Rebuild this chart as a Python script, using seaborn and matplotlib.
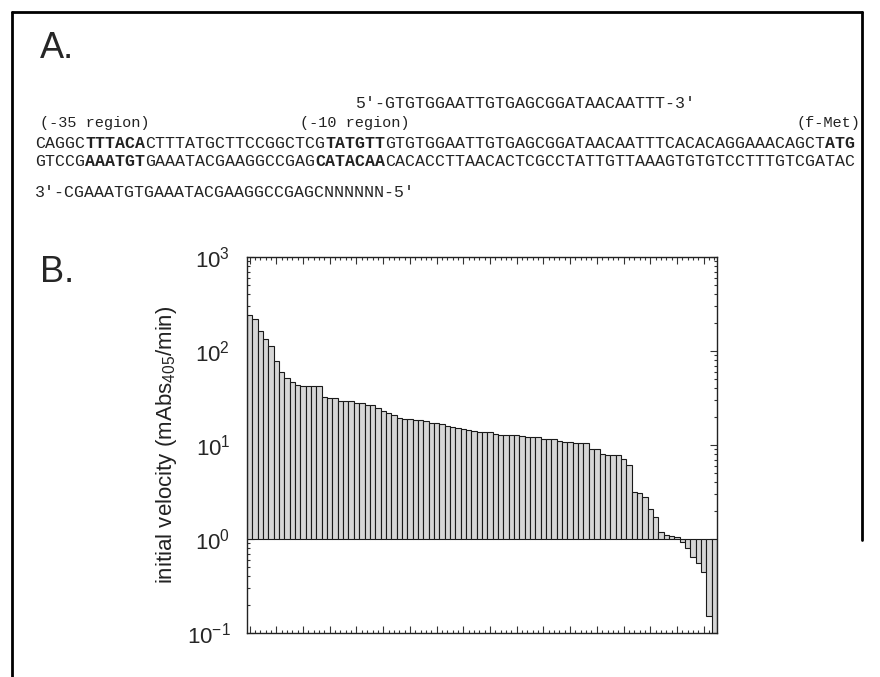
import matplotlib
matplotlib.use("Agg")
import matplotlib.pyplot as plt
import matplotlib.ticker as mticker
from matplotlib.lines import Line2D
import seaborn as sns
import numpy as np

# initial velocities of the clones, sorted (mAbs405/min)
velocity = [240, 218, 163, 133, 114, 78, 60, 52, 47, 43,
            42, 42, 42, 42, 32.6, 31.4, 31.4, 29.6, 29.6, 29.4,
            28.2, 28, 26.7, 26.5, 25, 23, 22, 21, 19.5, 19,
            18.8, 18.6, 18.4, 17.8, 17.2, 17.0, 16.8, 15.8, 15.5, 15.3,
            14.8, 14.5, 14.0, 13.8, 13.7, 13.6, 13.0, 12.9, 12.8, 12.8,
            12.7, 12.6, 12.3, 12.2, 12.2, 11.6, 11.5, 11.5, 11.0, 10.8,
            10.8, 10.5, 10.4, 10.4, 9.1, 9.0, 8.1, 7.9, 7.8, 7.8,
            7.1, 6.1, 3.2, 3.1, 2.8, 2.1, 1.7, 1.2, 1.1, 1.07,
            1.05, 0.94, 0.8, 0.65, 0.55, 0.45, 0.15, 0.1]
clone = list(range(len(velocity)))

# lac promoter / operator region
seq_top = "CAGGCTTTACACTTTATGCTTCCGGCTCGTATGTTGTGTGGAATTGTGAGCGGATAACAATTTCACACAGGAAACAGCTATG"
seq_bot = "GTCCGAAATGTGAAATACGAAGGCCGAGCATACAACACACCTTAACACTCGCCTATTGTTAAAGTGTGTCCTTTGTCGATAC"
bold_top = [(5, 11), (29, 35), (79, 82)]
bold_bot = [(5, 11), (28, 35)]
primer_5 = "5'-GTGTGGAATTGTGAGCGGATAACAATTT-3'"
primer_3 = "3'-CGAAATGTGAAATACGAAGGCCGAGCNNNNNN-5'"
regions = ["(-35 region)", "(-10 region)", "(f-Met)"]

sns.set_style("ticks")
plt.rcParams["font.family"] = ["Liberation Sans", "DejaVu Sans"]
plt.rcParams["mathtext.fontset"] = "custom"
plt.rcParams["mathtext.rm"] = "Liberation Sans"

W, H = 880, 677
fig = plt.figure(figsize=(W / 100, H / 100), dpi=100)


def fx(x):
    return x / W


def fy(y):
    return 1 - y / H


MONO = "Liberation Mono"
X0, DX = 35, 10


def seq_line(seq, bold, y):
    # split into plain / bold runs, place on the monospace grid
    cuts = sorted({0, len(seq)} | {b for r in bold for b in r})
    for a, b in zip(cuts[:-1], cuts[1:]):
        is_bold = any(s <= a < e for s, e in bold)
        fig.text(fx(X0 + a * DX), fy(y), seq[a:b], family=MONO, fontsize=12,
                 fontweight="bold" if is_bold else "normal",
                 va="center", ha="left", color="#222222")


fig.text(fx(40), fy(48), "A.", fontsize=26, va="center", ha="left")
fig.text(fx(40), fy(273), "B.", fontsize=26, va="center", ha="left")

fig.text(fx(X0 + 32 * DX), fy(103), primer_5, family=MONO, fontsize=12,
         va="center", ha="left", color="#222222")
fig.text(fx(40), fy(123), regions[0], family=MONO, fontsize=11, va="center", ha="left", color="#222222")
fig.text(fx(300), fy(123), regions[1], family=MONO, fontsize=11, va="center", ha="left", color="#222222")
fig.text(fx(860), fy(123), regions[2], family=MONO, fontsize=11, va="center", ha="right", color="#222222")
seq_line(seq_top, bold_top, 143)
seq_line(seq_bot, bold_bot, 162)
fig.text(fx(X0), fy(193), primer_3, family=MONO, fontsize=12,
         va="center", ha="left", color="#222222")

# panel frame
for xs, ys in [((12, 12), (12, H)), ((12, 862), (12, 12)), ((862, 862), (12, 540))]:
    fig.add_artist(Line2D([fx(v) for v in xs], [fy(v) for v in ys],
                          color="black", lw=2.0, transform=fig.transFigure))

# panel B: bars grow up/down from 1.0 on a log axis
ax = fig.add_axes([fx(247), fy(633), fx(717) - fx(247), fy(257) - fy(633)])
heights = np.array(velocity) - 1
sns.barplot(x=clone, y=heights, bottom=1, width=1.0, color="#d6d6d6",
            saturation=1, edgecolor="#1a1a1a", linewidth=0.8, ax=ax)
ax.set_yscale("log")
ax.set_ylim(0.1, 1000)
ax.set_xlim(-0.5, len(velocity) - 0.5)

ax.xaxis.set_major_locator(mticker.MultipleLocator(5))
ax.xaxis.set_minor_locator(mticker.MultipleLocator(1))
ax.xaxis.set_major_formatter(mticker.NullFormatter())
ax.yaxis.set_major_locator(mticker.LogLocator(base=10))
ax.yaxis.set_minor_locator(mticker.LogLocator(base=10, subs=np.arange(2, 10)))
ax.yaxis.set_major_formatter(mticker.LogFormatterSciNotation())
ax.yaxis.set_minor_formatter(mticker.NullFormatter())

ax.tick_params(which="both", direction="in", top=True, right=True, width=0.8, color="#333333")
ax.tick_params(which="major", length=5, labelsize=16, pad=12)
ax.tick_params(which="minor", length=2.5)
ax.tick_params(axis="x", which="both", labelbottom=False)
for sp in ax.spines.values():
    sp.set_linewidth(1.0)
    sp.set_color("#222222")

ax.set_xlabel("")
ax.set_ylabel("initial velocity (mAbs$_{405}$/min)", fontsize=16, color="#222222")
ax.yaxis.set_label_coords(-0.145, 0.5)

fig.savefig("out.png", dpi=100, facecolor="white")
